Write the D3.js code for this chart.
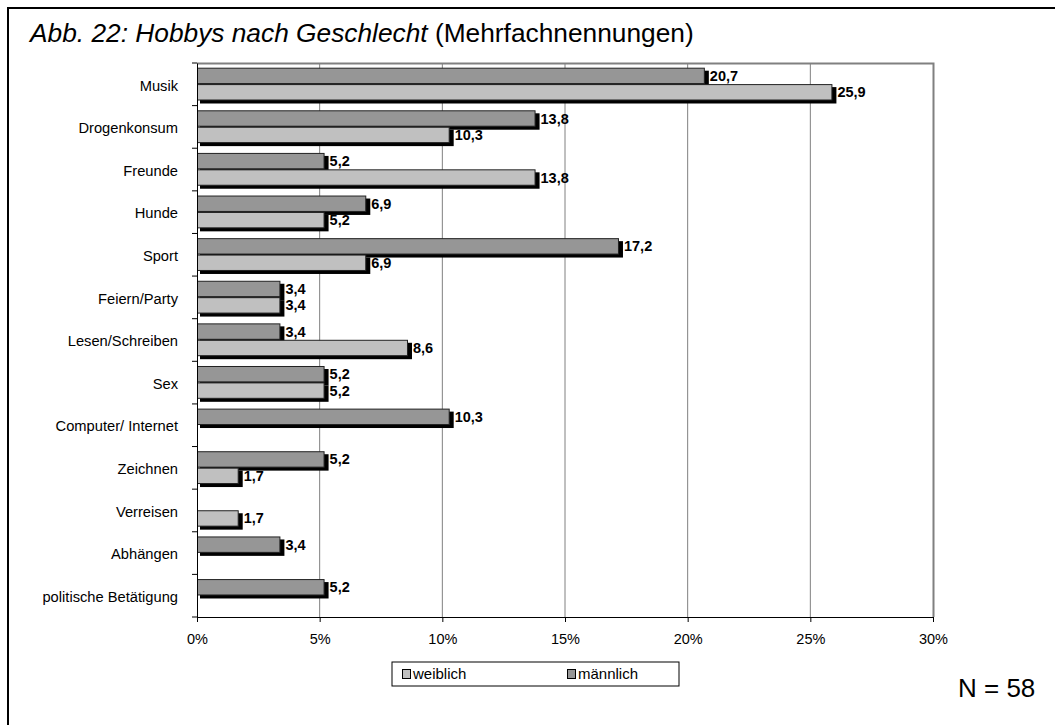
<!DOCTYPE html>
<html><head><meta charset="utf-8">
<script src="https://cdn.jsdelivr.net/npm/d3@7"></script>
<style>html,body{margin:0;padding:0;background:#fff;} svg{display:block;font-family:Arial,"Liberation Sans",sans-serif;}</style>
</head><body>
<script>
const categories = ["Musik","Drogenkonsum","Freunde","Hunde","Sport","Feiern/Party","Lesen/Schreiben","Sex","Computer/ Internet","Zeichnen","Verreisen","Abhängen","politische Betätigung"];
const maennlich = [20.7,13.8,5.2,6.9,17.2,3.4,3.4,5.2,10.3,5.2,null,3.4,5.2];
const weiblich  = [25.9,10.3,13.8,5.2,6.9,3.4,8.6,5.2,null,1.7,1.7,null,null];
const seriesNames = ["männlich","weiblich"];
const legendNames = ["weiblich","männlich"];
const xTicks = [0,5,10,15,20,25,30];
const colors = {"männlich":"#969696","weiblich":"#c0c0c0"};

const W=1055,H=725;
const svg=d3.select("body").append("svg").attr("width",W).attr("height",H);
svg.append("rect").attr("width",W).attr("height",H).attr("fill","#fff");
// outer frame
svg.append("rect").attr("x",8).attr("y",8).attr("width",1200).attr("height",900)
  .attr("fill","none").attr("stroke","#000").attr("stroke-width",2);

// title
const t=svg.append("text").attr("x",30).attr("y",42).attr("font-size",26.3).attr("fill","#000");
t.append("tspan").attr("font-style","italic").text("Abb. 22: Hobbys nach Geschlecht");
t.append("tspan").text(" (Mehrfachnennungen)");

const m={l:197,r:933,t:63,b:617};
const x=d3.scaleLinear().domain([0,30]).range([m.l,m.r]);
const y=d3.scaleBand().domain(categories).range([m.t,m.b]).paddingInner(0).paddingOuter(0);
const bw=y.bandwidth();
const inner=d3.scaleBand().domain(seriesNames).range([bw*0.11,bw*0.88]).padding(0);

// gridlines
svg.append("g").selectAll("line").data(xTicks.filter(d=>d>0&&d<30)).join("line")
  .attr("x1",d=>x(d)).attr("x2",d=>x(d)).attr("y1",m.t).attr("y2",m.b)
  .attr("stroke","#808080").attr("stroke-width",1);
// plot border (top & right)
svg.append("path").attr("d",`M${m.l},${m.t+0.5}H${m.r+0.5}V${m.b}`).attr("fill","none")
  .attr("stroke","#808080").attr("stroke-width",2);

// bars
const rows=categories.map((c,i)=>({c,vals:{"männlich":maennlich[i],"weiblich":weiblich[i]}}));
const barData=[];
rows.forEach(r=>seriesNames.forEach(s=>{if(r.vals[s]!=null)barData.push({c:r.c,s,v:r.vals[s]});}));
const g=svg.append("g");
// shadows
g.selectAll("rect.sh").data(barData).join("rect").attr("class","sh")
  .attr("x",x(0)+3).attr("y",d=>y(d.c)+inner(d.s)+3)
  .attr("width",d=>x(d.v)-x(0)+1).attr("height",inner.bandwidth()).attr("fill","#000");
g.selectAll("rect.bar").data(barData).join("rect").attr("class","bar")
  .attr("x",x(0)+0.5).attr("y",d=>y(d.c)+inner(d.s)+0.5)
  .attr("width",d=>x(d.v)-x(0)-1).attr("height",inner.bandwidth()-1)
  .attr("fill",d=>colors[d.s]).attr("stroke","#222").attr("stroke-width",1);
g.selectAll("text.val").data(barData).join("text").attr("class","val")
  .attr("x",d=>x(d.v)+5).attr("y",d=>y(d.c)+inner(d.s)+inner.bandwidth()/2+5)
  .attr("font-size",14.5).attr("font-weight","bold").attr("fill","#000")
  .text(d=>d3.format(".1f")(d.v).replace(".",","));

// x axis
const xAxis=d3.axisBottom(x).tickValues(xTicks).tickFormat(d=>d+"%").tickSize(5).tickPadding(12);
const xa=svg.append("g").attr("transform",`translate(0,${m.b})`).call(xAxis);
xa.select(".domain").attr("stroke","#000");
xa.selectAll("text").attr("font-size",14.5).attr("font-family","Arial,'Liberation Sans',sans-serif").attr("fill","#000");
xa.selectAll(".tick line").attr("stroke","#000");
// y axis
const ya=svg.append("g").attr("transform",`translate(${m.l},1.5)`)
  .call(d3.axisLeft(y).tickSize(0).tickPadding(19));
ya.select(".domain").attr("stroke","#000").attr("transform","translate(0,-1.5)");
ya.selectAll("text").attr("font-size",14.7).attr("font-family","Arial,'Liberation Sans',sans-serif").attr("fill","#000");
svg.append("g").selectAll("line").data(categories.map(c=>y(c)).concat([m.b])).join("line")
  .attr("x1",m.l-5).attr("x2",m.l).attr("y1",d=>d).attr("y2",d=>d).attr("stroke","#000");

// legend
const lg=svg.append("g");
lg.append("rect").attr("x",392).attr("y",662).attr("width",287).attr("height",24)
  .attr("fill","#fff").attr("stroke","#000").attr("stroke-width",1);
const lx=[402,567];
legendNames.forEach((n,i)=>{
  lg.append("rect").attr("x",lx[i]+0.5).attr("y",669.5).attr("width",8).attr("height",9)
    .attr("fill",colors[n]).attr("stroke","#000");
  lg.append("text").attr("x",lx[i]+11).attr("y",679).attr("font-size",15).text(n);
});

svg.append("text").attr("x",958).attr("y",697).attr("font-size",26).text("N = 58");
</script>
</body></html>
